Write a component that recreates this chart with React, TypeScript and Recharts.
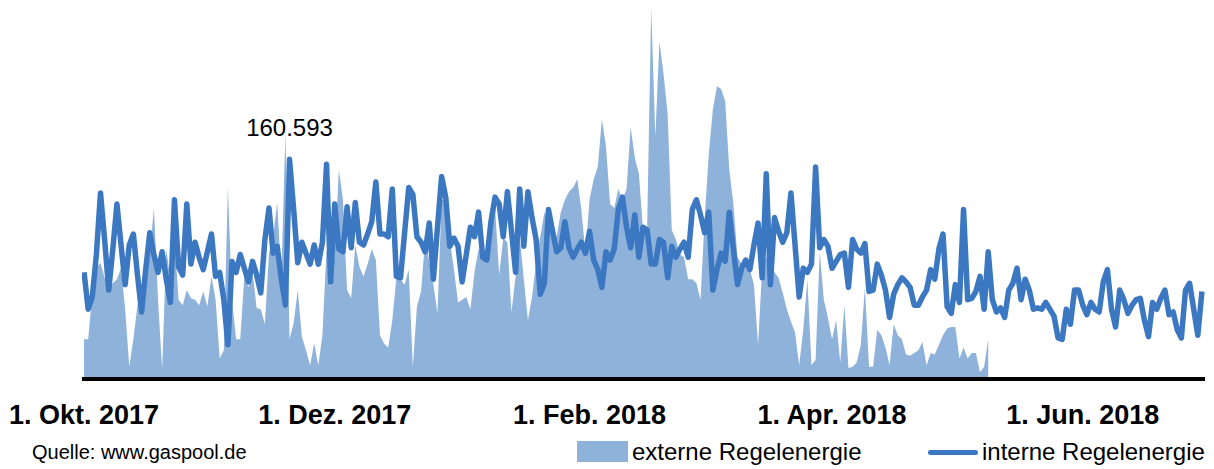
import {
  ComposedChart,
  Area,
  Line,
  XAxis,
  YAxis,
  ReferenceDot,
} from "recharts";

// day 0 = 1. Okt. 2017, daily values (thousands)
const interne = [
  78, 51, 60, 91, 136, 102, 65, 95, 128, 98,
  69, 98, 106, 76, 49, 80, 107, 91, 78, 93,
  73, 56, 131, 82, 76, 128, 84, 100, 89, 80,
  93, 106, 75, 78, 58, 25, 86, 78, 91, 81,
  71, 86, 76, 63, 102, 125, 92, 97, 73, 54,
  160.593, 124, 85, 100, 92, 84, 98, 84, 100, 157,
  71, 128, 95, 93, 126, 96, 129, 100, 98, 106,
  115, 144, 106, 106, 104, 139, 75, 74, 107, 140,
  135, 104, 100, 93, 114, 73, 111, 148, 133, 97,
  103, 97, 71, 91, 111, 104, 122, 89, 87, 115,
  133, 128, 104, 137, 108, 78, 139, 97, 137, 118,
  102, 62, 70, 124, 108, 93, 96, 115, 96, 89,
  95, 100, 92, 108, 87, 80, 67, 93, 87, 95,
  124, 133, 111, 96, 120, 89, 111, 109, 84, 84,
  102, 100, 74, 97, 89, 95, 100, 89, 124, 131,
  120, 107, 122, 65, 80, 92, 86, 122, 95, 69,
  81, 87, 80, 98, 114, 74, 150, 69, 118, 108,
  100, 107, 136, 98, 60, 81, 78, 84, 155, 96,
  102, 97, 81, 86, 91, 92, 67, 102, 95, 92,
  99, 64, 65, 84, 76, 65, 45, 62, 69, 74,
  71, 67, 54, 54, 60, 65, 80, 73, 95, 106,
  53, 48, 69, 56, 124, 58, 59, 64, 75, 51,
  93, 58, 49, 52, 45, 65, 70, 81, 58, 73,
  65, 51, 52, 51, 56, 51, 46, 30, 29, 51,
  40, 65, 65, 54, 47, 56, 51, 49, 71, 80,
  51, 38, 65, 58, 48, 54, 58, 59, 43, 31,
  56, 51, 59, 65, 47, 49, 36, 30, 65, 70,
  51, 32, 64,
];

const externe = [
  29, 29, 62, 81, 85, 74, 69, 70, 73, 81,
  51, 9, 29, 54, 65, 74, 92, 125, 58, 7,
  95, 73, 104, 58, 54, 65, 59, 58, 54, 64,
  53, 75, 58, 15, 21, 140, 58, 29, 29, 75,
  67, 78, 52, 51, 40, 92, 104, 129, 75, 180,
  29, 41, 65, 31, 21, 10, 26, 10, 32, 95,
  67, 92, 153, 131, 65, 59, 98, 82, 75, 84,
  95, 87, 32, 26, 23, 43, 74, 73, 69, 80,
  9, 53, 64, 102, 86, 69, 48, 131, 131, 102,
  80, 56, 58, 60, 51, 78, 95, 89, 89, 106,
  126, 76, 103, 100, 49, 75, 104, 73, 43, 60,
  85, 104, 122, 114, 109, 104, 122, 131, 137, 140,
  146, 124, 92, 131, 146, 155, 190, 170, 128, 125,
  139, 131, 139, 184, 162, 150, 109, 109, 272, 177,
  247, 223, 194, 109, 102, 91, 89, 73, 73, 70,
  58, 117, 164, 197, 214, 212, 203, 153, 128, 89,
  84, 87, 80, 69, 25, 81, 89, 84, 78, 74,
  63, 51, 42, 34, 10, 36, 73, 10, 14, 93,
  58, 45, 29, 43, 12, 54, 8, 9, 12, 25,
  67, 9, 9, 36, 32, 23, 10, 40, 32, 29,
  18, 17, 19, 21, 27, 10, 19, 18, 25, 32,
  37, 38, 38, 15, 23, 15, 19, 19, 5, 9,
  29,
];

const tickDays = [0, 61, 123, 182, 243];
const tickLabels = ["1. Okt. 2017", "1. Dez. 2017", "1. Feb. 2018", "1. Apr. 2018", "1. Jun. 2018"];

const peakDay = 50;

const AREA_COLOR = "#8fb2db";
const LINE_COLOR = "#3c78c1";
const FONT = "'Liberation Sans', Arial, sans-serif";

const data = interne.map((v, i) => ({
  day: i,
  interne: v,
  externe: i < externe.length ? externe[i] : null,
}));

export default function App() {
  return (
    <div
      style={{
        position: "fixed",
        left: 0,
        top: 0,
        width: 1214,
        height: 469,
        background: "#fff",
        fontFamily: FONT,
      }}
    >
      <ComposedChart
        width={1214}
        height={469}
        data={data}
        margin={{ top: 7, right: 9, bottom: 0, left: 82 }}
      >
        <XAxis
          dataKey="day"
          type="number"
          domain={[-0.5, 272.75]}
          allowDataOverflow
          ticks={tickDays}
          tickFormatter={(d: number) => tickLabels[tickDays.indexOf(d)]}
          height={90}
          tickLine={false}
          tickSize={0}
          tickMargin={26}
          axisLine={{ stroke: "#000", strokeWidth: 4 }}
          tick={{ fill: "#000", fontSize: 27, fontWeight: 700, fontFamily: FONT }}
          interval={0}
        />
        <YAxis hide domain={[0, 272]} allowDataOverflow />
        <Area
          type="linear"
          dataKey="externe"
          stroke="none"
          fill={AREA_COLOR}
          fillOpacity={1}
          isAnimationActive={false}
        />
        <Line
          type="linear"
          dataKey="interne"
          stroke={LINE_COLOR}
          strokeWidth={5.5}
          strokeLinejoin="round"
          dot={false}
          activeDot={false}
          isAnimationActive={false}
        />
        <ReferenceDot
          x={peakDay}
          y={interne[peakDay]}
          r={0}
          fill="none"
          stroke="none"
          label={{
            value: interne[peakDay].toFixed(3),
            position: "top",
            offset: 23,
            fontSize: 24,
            fill: "#000",
            fontFamily: FONT,
          }}
        />
      </ComposedChart>

      <div
        style={{
          position: "absolute",
          left: 32,
          top: 442,
          fontSize: 20,
          lineHeight: "20px",
          color: "#000",
          whiteSpace: "nowrap",
        }}
      >
        Quelle: www.gaspool.de
      </div>

      <div
        style={{
          position: "absolute",
          left: 577,
          top: 441,
          width: 51,
          height: 21,
          background: AREA_COLOR,
        }}
      />
      <div
        style={{
          position: "absolute",
          left: 632,
          top: 440,
          fontSize: 24,
          lineHeight: "24px",
          color: "#000",
          whiteSpace: "nowrap",
        }}
      >
        externe Regelenergie
      </div>

      <div
        style={{
          position: "absolute",
          left: 928,
          top: 450,
          width: 50,
          height: 5,
          borderRadius: 3,
          background: LINE_COLOR,
        }}
      />
      <div
        style={{
          position: "absolute",
          left: 982,
          top: 440,
          fontSize: 24,
          lineHeight: "24px",
          color: "#000",
          whiteSpace: "nowrap",
        }}
      >
        interne Regelenergie
      </div>
    </div>
  );
}
